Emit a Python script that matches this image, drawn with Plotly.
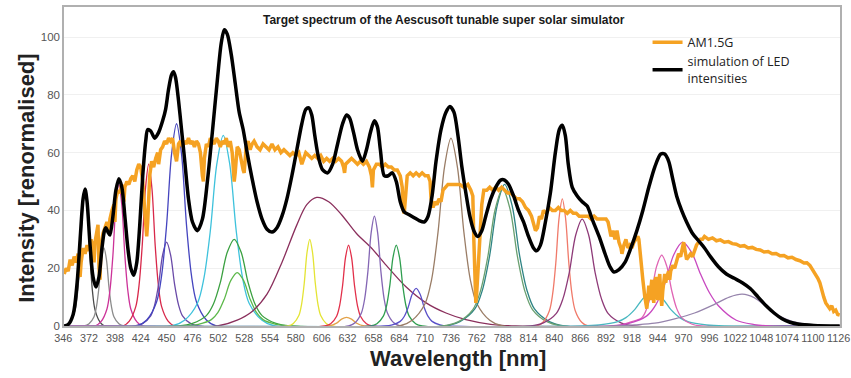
import plotly.graph_objects as go

# ---------------- data ----------------
WAVELENGTH_TICKS = list(range(346, 1127, 26))
Y_TICKS = [0, 20, 40, 60, 80, 100]

# AM1.5G reference spectrum (nm, renormalised intensity)
AM15G = [
    (346, 18), (348, 20), (350, 19), (352, 23), (354, 21), (356, 24), (358, 22), (360, 25),
    (361, 19), (362, 17), (363, 22), (365, 27), (367, 25), (369, 28), (371, 26), (373, 30),
    (375, 27), (376, 22), (377, 29), (379, 33), (380, 35), (381, 20), (382, 16), (383, 28),
    (385, 32), (387, 34), (389, 36), (391, 33), (392, 37), (394, 40), (396, 42), (397, 36),
    (398, 44), (400, 47), (402, 46), (404, 49), (406, 43), (407, 48), (409, 50), (411, 49),
    (413, 51), (415, 52), (417, 50), (419, 54), (421, 56), (423, 55), (425, 50), (427, 40),
    (429, 31), (430, 36), (432, 52), (434, 57), (436, 55), (438, 58), (440, 60), (441, 56),
    (443, 61), (445, 62), (447, 64), (449, 63), (451, 65), (453, 64), (455, 65), (457, 60),
    (459, 57), (461, 63), (463, 64), (465, 62), (467, 64), (469, 63), (471, 65), (473, 63),
    (475, 64), (477, 62), (479, 64), (481, 63), (483, 60), (485, 52), (486, 50), (487, 58),
    (489, 63), (491, 62), (493, 65), (495, 64), (497, 63), (499, 65), (501, 64), (503, 62),
    (505, 64), (507, 63), (509, 65), (511, 62), (513, 64), (515, 60), (517, 50), (518, 53),
    (520, 62), (522, 61), (524, 57), (526, 54), (527, 53), (529, 62), (531, 64), (533, 61),
    (535, 63), (537, 64), (540, 62), (543, 61), (546, 63), (549, 62), (552, 61), (555, 63),
    (558, 61), (561, 62), (564, 60), (567, 61), (570, 60), (573, 59), (576, 60), (579, 59),
    (582, 60), (585, 56), (587, 58), (589, 60), (592, 59), (595, 58), (598, 59), (601, 58),
    (604, 59), (607, 57), (610, 58), (613, 57), (616, 58), (619, 57), (622, 58), (625, 57),
    (627, 55), (628, 53), (629, 56), (632, 57), (635, 58), (638, 57), (641, 56), (644, 57),
    (647, 56), (650, 57), (653, 55), (655, 52), (656, 48), (657, 54), (660, 56), (663, 56),
    (666, 55), (669, 56), (672, 55), (675, 55), (678, 54), (681, 54), (684, 52), (686, 48),
    (687, 40), (688, 39), (689, 44), (691, 52), (694, 53), (697, 52), (700, 53), (703, 52),
    (706, 53), (709, 52), (712, 52), (714, 50), (715, 44), (717, 41), (719, 43), (721, 42),
    (723, 44), (725, 43), (727, 47), (729, 48), (732, 49), (736, 49), (740, 49), (744, 49),
    (748, 48), (752, 49), (755, 47), (757, 45), (758, 30), (759, 15), (760, 8), (761, 12),
    (762, 20), (764, 30), (766, 42), (768, 47), (771, 47), (774, 48), (777, 47), (780, 48),
    (783, 47), (786, 48), (789, 47), (792, 46), (795, 46), (798, 45), (801, 44), (804, 44),
    (807, 43), (810, 41), (813, 40), (816, 38), (818, 35), (820, 33), (822, 34), (824, 38),
    (826, 37), (828, 40), (831, 39), (834, 41), (837, 40), (840, 40), (843, 41), (846, 40),
    (849, 40), (852, 39), (855, 40), (858, 39), (861, 39), (864, 38), (867, 38), (870, 38),
    (873, 38), (876, 37), (879, 38), (882, 37), (885, 37), (888, 37), (891, 37), (893, 36),
    (895, 33), (896, 31), (898, 33), (900, 30), (902, 33), (904, 29), (906, 27), (907, 25),
    (909, 28), (911, 30), (913, 27), (915, 28), (917, 27), (919, 29), (921, 30), (923, 31),
    (924, 30), (926, 22), (928, 16), (930, 10), (931, 7), (932, 6), (933, 10), (934, 14),
    (935, 9), (936, 12), (937, 16), (938, 11), (939, 8), (940, 14), (941, 17), (942, 12),
    (943, 9), (944, 15), (945, 18), (946, 11), (947, 7), (948, 12), (949, 16), (950, 18),
    (951, 15), (952, 17), (954, 19), (955, 16), (956, 19), (958, 21), (960, 20), (962, 23),
    (964, 25), (966, 24), (968, 27), (969, 29), (970, 27), (972, 23), (974, 24), (976, 25),
    (978, 24), (980, 26), (982, 28), (984, 29), (986, 30), (988, 30), (990, 31), (994, 30),
    (998, 30.5), (1002, 29.5), (1006, 29.8), (1010, 29), (1014, 29.2), (1018, 28.5),
    (1022, 28.3), (1026, 27.6), (1030, 27.8), (1034, 27), (1038, 27.2), (1042, 26.5),
    (1046, 26.3), (1050, 25.6), (1054, 25.8), (1058, 25), (1062, 25.1), (1066, 24.3),
    (1070, 24.4), (1074, 23.6), (1078, 23.8), (1082, 23), (1086, 22.6), (1090, 21.8),
    (1093, 21.9), (1096, 21), (1098, 20), (1100, 19), (1102, 18), (1104, 16.5), (1106, 15),
    (1108, 12), (1110, 10), (1112, 8), (1114, 7), (1116, 6), (1118, 7), (1120, 5),
    (1122, 5.5), (1124, 4), (1126, 3.8),
]

# simulated sum of LED intensities
SIMULATION = [
    (346, 0), (350, 0.5), (355, 4), (359, 15), (362, 30), (365, 44), (367, 47.4), (369, 43),
    (372, 28), (375, 17), (378, 13.5), (381, 17), (384, 27), (386.5, 33), (388, 34),
    (390, 32.5), (392, 31.5), (395, 38), (398, 47), (401, 51), (404, 48), (407, 38),
    (410, 27), (413, 20), (416, 17.6), (419, 22), (422, 35), (425, 52), (428, 64), (430, 68),
    (433, 67.5), (437, 65), (441, 67), (445, 71), (448, 75), (451, 82), (454, 87), (456, 88),
    (458, 86), (461, 78), (464, 68), (467, 58), (471, 44), (475, 36), (480, 33), (485, 37),
    (490, 50), (495, 67), (500, 85), (504, 98), (507, 102.5), (510, 101), (514, 94),
    (518, 84), (522, 74), (526, 68), (530, 60), (535, 51), (540, 43), (545, 37), (550, 33.5),
    (555, 32.5), (560, 34), (565, 38), (570, 44), (575, 52), (580, 61), (585, 70), (589, 75),
    (592, 75.5), (595, 73), (598, 66), (602, 58), (606, 54), (611, 53), (616, 56), (621, 63),
    (626, 70), (630, 73), (633, 72), (637, 67), (641, 61), (646, 57), (650, 61), (654, 67),
    (658, 71), (661, 69), (664, 61), (668, 52), (672, 52), (676, 53), (680, 50), (684, 43),
    (688, 39.5), (693, 38.5), (698, 37.5), (703, 36.5), (708, 36), (712, 38), (716, 45),
    (720, 57), (725, 68), (730, 74), (734, 76), (738, 74), (742, 66), (746, 55), (750, 46),
    (754, 38), (758, 33), (762, 31), (766, 33), (770, 38), (775, 44), (780, 48), (785, 50.5),
    (789, 50.5), (793, 49), (798, 45), (803, 40), (808, 36), (813, 31), (818, 27), (821, 26),
    (825, 28), (830, 36), (835, 46), (840, 60), (844, 68), (847, 69.5), (850, 66), (853, 56),
    (857, 48), (862, 45), (867, 43), (872, 41.5), (877, 37), (884, 31), (890, 25),
    (895, 20.5), (899, 18.7), (904, 19.5), (910, 22), (916, 27), (922, 33), (928, 40),
    (934, 48), (940, 55), (946, 59.5), (950, 59.5), (954, 57), (958, 51), (962, 45),
    (967, 40), (972, 36), (978, 32), (984, 29.5), (990, 27), (996, 24), (1004, 20.5),
    (1012, 18), (1020, 16.5), (1028, 15), (1036, 13), (1044, 10), (1052, 7), (1060, 4.5),
    (1068, 2.5), (1076, 1.3), (1085, 0.6), (1100, 0.2), (1126, 0),
]

# individual LED spectra (nm, intensity)
LED_367 = [(346, 0), (347, 0), (352, 1.4), (357, 5.6), (359.5, 11.8), (362, 23.5), (364.5, 40),
           (367, 47), (369.5, 40), (372, 23.5), (374.5, 11.8), (377, 5.6), (382, 1.4), (387, 0), (1126, 0)]
LED_386 = [(346, 0), (366, 0), (371, 0.8), (376, 3.2), (378.5, 6.8), (381, 13.5), (383.5, 23),
           (386, 27), (388.5, 23), (391, 13.5), (393.5, 6.8), (396, 3.2), (401, 0.8), (406, 0), (1126, 0)]
LED_401 = [(346, 0), (377, 0), (383, 1.5), (389, 5.9), (392, 12.3), (395, 24.5), (398, 41.7),
           (401, 49), (404, 41.7), (407, 24.5), (410, 12.3), (413, 5.9), (419, 1.5), (425, 0), (1126, 0)]
LED_431 = [(346, 0), (405, 0), (411.5, 1.7), (418, 6.7), (421.25, 14), (424.5, 28), (427.75, 47.6),
           (431, 56), (434.25, 47.6), (437.5, 28), (440.75, 14), (444, 6.7), (450.5, 1.7), (457, 0), (1126, 0)]
LED_449 = [(346, 0), (417, 0), (425, 0.9), (433, 3.5), (437, 7.3), (441, 14.5), (445, 24.6),
           (449, 29), (453, 24.6), (457, 14.5), (461, 7.3), (465, 3.5), (473, 0.9), (481, 0), (1126, 0)]
LED_459 = [(346, 0), (419, 0), (429, 2.1), (439, 8.4), (444, 17.5), (449, 35), (454, 59.5),
           (459, 70), (464, 59.5), (469, 35), (474, 17.5), (479, 8.4), (489, 2.1), (499, 0), (1126, 0)]
LED_506 = [(346, 0), (454, 0), (467, 2), (480, 7.9), (486.5, 16.5), (493, 33), (499.5, 56),
           (506, 66), (512.5, 56), (519, 33), (525.5, 16.5), (532, 7.9), (545, 2), (558, 0), (1126, 0)]
LED_517 = [(346, 0), (461, 0), (475, 0.9), (489, 3.6), (496, 7.5), (503, 15), (510, 25.5),
           (517, 30), (524, 25.5), (531, 15), (538, 7.5), (545, 3.6), (559, 0.9), (573, 0), (1126, 0)]
LED_520 = [(346, 0), (468, 0), (481, 0.6), (494, 2.2), (500.5, 4.6), (507, 9.3), (513.5, 15.7),
           (520, 18.5), (526.5, 15.7), (533, 9.3), (539.5, 4.6), (546, 2.2), (559, 0.6), (572, 0), (1126, 0)]
LED_600 = [(346, 0), (500, 0), (520, 2), (535, 5), (550, 11), (565, 22), (580, 35), (590, 42),
           (600, 44.5), (612, 43), (625, 38.5), (640, 32), (655, 27), (670, 21), (690, 13.5),
           (710, 8), (730, 4.5), (750, 2.2), (775, 0.6), (800, 0), (1126, 0)]
LED_593 = [(346, 0), (571, 0), (576.5, 0.9), (582, 3.6), (584.75, 7.5), (587.5, 15), (590.25, 25.5),
           (593, 30), (595.75, 25.5), (598.5, 15), (601.25, 7.5), (604, 3.6), (609.5, 0.9), (615, 0), (1126, 0)]
LED_630 = [(346, 0), (612, 0), (620, 1), (625, 2.4), (630, 3), (635, 2.4), (640, 1), (648, 0), (1126, 0)]
LED_632 = [(346, 0), (608, 0), (614, 0.8), (620, 3.4), (623, 7), (626, 14), (629, 23.8),
           (632, 28), (635, 23.8), (638, 14), (641, 7), (644, 3.4), (650, 0.8), (656, 0), (1126, 0)]
LED_658 = [(346, 0), (632, 0), (638.5, 1.1), (645, 4.6), (648.25, 9.5), (651.5, 19), (654.75, 32.3),
           (658, 38), (661.25, 32.3), (664.5, 19), (667.75, 9.5), (671, 4.6), (677.5, 1.1), (684, 0), (1126, 0)]
LED_680 = [(346, 0), (654, 0), (660.5, 0.8), (667, 3.4), (670.25, 7), (673.5, 14), (676.75, 23.8),
           (680, 28), (683.25, 23.8), (686.5, 14), (689.75, 7), (693, 3.4), (699.5, 0.8), (706, 0), (1126, 0)]
LED_700 = [(346, 0), (668, 0), (676, 0.4), (684, 1.6), (688, 3.3), (692, 6.5), (696, 11),
           (700, 13), (704, 11), (708, 6.5), (712, 3.3), (716, 1.6), (724, 0.4), (732, 0), (1126, 0)]
LED_735 = [(346, 0), (683, 0), (696, 2), (709, 7.8), (715.5, 16), (722, 32.5), (728.5, 55),
           (735, 65), (741.5, 55), (748, 32.5), (754.5, 16), (761, 7.8), (774, 2), (787, 0), (1126, 0)]
LED_789 = [(346, 0), (729, 0), (744, 1.5), (759, 5.9), (766.5, 12.3), (774, 24.5), (781.5, 41.7),
           (789, 49), (796.5, 41.7), (804, 24.5), (811.5, 12.3), (819, 5.9), (834, 1.5), (849, 0), (1126, 0)]
LED_787 = [(346, 0), (727, 0), (742, 1.4), (757, 5.7), (764.5, 11.9), (772, 23.8), (779.5, 40.4),
           (787, 47.5), (794.5, 40.4), (802, 23.8), (809.5, 11.9), (817, 5.7), (832, 1.4), (847, 0), (1126, 0)]
LED_847 = [(346, 0), (821, 0), (827.5, 1.3), (834, 5.3), (837.25, 11), (840.5, 22), (843.75, 37.4),
           (847, 44), (850.25, 37.4), (853.5, 22), (856.75, 11), (860, 5.3), (866.5, 1.3), (873, 0), (1126, 0)]
LED_867 = [(346, 0), (815, 0), (828, 1.1), (841, 4.4), (847.5, 9.3), (854, 18.5), (860.5, 31.5),
           (867, 37), (873.5, 31.5), (880, 18.5), (886.5, 9.3), (893, 4.4), (906, 1.1), (919, 0), (1126, 0)]
LED_947 = [(346, 0), (900, 0), (914, 1.2), (927, 2.9), (932, 6.1), (937, 12.3), (942, 20.8),
           (947, 24.5), (952, 20.8), (957, 12.3), (962, 6.1), (967, 2.9), (977, 0.7), (987, 0), (1126, 0)]
LED_938 = [(346, 0), (866, 0), (884, 0.35), (902, 1.4), (911, 2.9), (920, 5.75), (929, 9.8),
           (938, 11.5), (947, 9.8), (956, 5.75), (965, 2.9), (974, 1.4), (992, 0.35), (1010, 0), (1126, 0)]
LED_968 = [(346, 0), (896, 0), (914, 0.9), (932, 3.5), (941, 7.3), (950, 14.5), (959, 24.6),
           (968, 29), (977, 25.5), (986, 18), (995, 11.5), (1004, 7), (1022, 2), (1040, 0.5), (1055, 0), (1126, 0)]
LED_1028 = [(346, 0), (900, 0), (920, 0.4), (940, 1), (960, 2.5), (980, 4.5), (1000, 7.5),
            (1015, 10), (1028, 11), (1040, 9.8), (1053, 6.5), (1065, 3.5), (1078, 1.6),
            (1100, 0.3), (1126, 0)]

LEDS = [LED_367, LED_386, LED_401, LED_431, LED_449, LED_459, LED_506, LED_517, LED_520,
        LED_600, LED_593, LED_630, LED_632, LED_658, LED_680, LED_700, LED_735, LED_789,
        LED_787, LED_847, LED_867, LED_938, LED_947, LED_968, LED_1028]

# ---------------- styles ----------------
LED_COLORS = ["#4a4a4a", "#8c8c8c", "#cc3399", "#d8284a", "#6a4aa8", "#4545bf", "#3ec2dc",
              "#3aa040", "#5cb84a", "#8a2f5c", "#e4e434", "#e3a24a", "#e2304a", "#8466b4",
              "#2f9e4f", "#5a50c8", "#9a7d66", "#2e8484", "#6aa070", "#f07a6a", "#8e3a78",
              "#48b8c0", "#e064b4", "#c848c0", "#9684ac"]
ORANGE = "#f5a223"

fig = go.Figure()

for pts, col in zip(LEDS, LED_COLORS):
    fig.add_trace(go.Scatter(
        x=[p[0] for p in pts], y=[p[1] for p in pts], mode="lines",
        line=dict(color=col, width=1.3, shape="spline", smoothing=0.9),
        showlegend=False, hoverinfo="skip"))

fig.add_trace(go.Scatter(
    x=[p[0] for p in AM15G], y=[p[1] for p in AM15G], mode="lines",
    name="AM1.5G", line=dict(color=ORANGE, width=3.5)))

fig.add_trace(go.Scatter(
    x=[p[0] for p in SIMULATION], y=[p[1] for p in SIMULATION], mode="lines",
    name="simulation of LED<br>intensities",
    line=dict(color="#000000", width=3.5, shape="spline", smoothing=0.8)))

xtickfont = dict(family="Liberation Sans, Arial, sans-serif", size=10.8, color="#555555")
ytickfont = dict(family="Liberation Sans, Arial, sans-serif", size=11.5, color="#555555")

fig.update_layout(
    width=851, height=378,
    margin=dict(l=64, r=11, t=7, b=52, autoexpand=False),
    paper_bgcolor="white", plot_bgcolor="white",
    showlegend=True,
    legend=dict(x=0.752, y=0.935, xanchor="left", yanchor="top",
                bgcolor="rgba(0,0,0,0)", borderwidth=0, itemwidth=30,
                font=dict(family="Open Sans, Noto Sans, sans-serif", size=12.5, color="#222222"),
                tracegroupgap=0),
    xaxis=dict(range=[345.8, 1126.3], tickmode="array", tickvals=WAVELENGTH_TICKS,
               ticktext=[str(v) for v in WAVELENGTH_TICKS], tickangle=0,
               ticklabeloverflow="allow", automargin=False, ticklabelshift=-1,
               tickfont=xtickfont, showgrid=False, zeroline=False,
               showline=True, linecolor="#b0b0b0", linewidth=1.5, mirror=True,
               ticks="", ticklabelstandoff=1),
    yaxis=dict(range=[0, 110.4], tickmode="array", tickvals=Y_TICKS, automargin=False,
               tickfont=ytickfont, showgrid=True, gridcolor="#f0f0f0", gridwidth=1,
               zeroline=False, showline=True, linecolor="#b0b0b0", linewidth=1.5,
               mirror=True, ticks=""),
    annotations=[
        dict(text="<b>Target spectrum of the Aescusoft tunable super solar simulator</b>",
             xref="paper", yref="paper", x=0.49, y=0.96, xanchor="center", yanchor="middle",
             showarrow=False,
             font=dict(family="Liberation Sans, Arial, sans-serif", size=12, color="#1a1a1a")),
        dict(text="<b>Intensity [renormalised]</b>", xref="paper", yref="paper",
             x=-0.0488, y=0.462, xanchor="center", yanchor="middle", textangle=-90,
             showarrow=False,
             font=dict(family="Liberation Sans, Arial, sans-serif", size=22, color="#222222")),
        dict(text="<b>Wavelength [nm]</b>", xref="paper", yref="paper",
             x=0.508, y=-0.103, xanchor="center", yanchor="middle", showarrow=False,
             font=dict(family="Liberation Sans, Arial, sans-serif", size=22, color="#222222")),
    ],
)

fig.write_html("out.html")
